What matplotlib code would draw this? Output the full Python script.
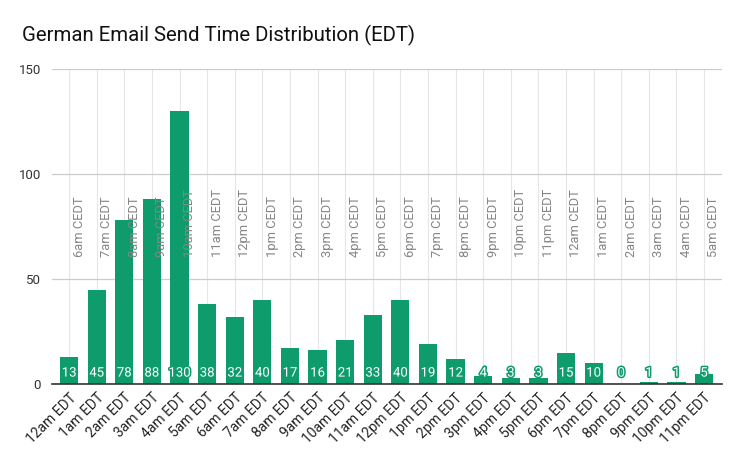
import matplotlib.pyplot as plt
import matplotlib.patheffects as pe

plt.rcParams["font.family"] = ["Roboto", "DejaVu Sans"]

edt_hours = [
    "12am EDT", "1am EDT", "2am EDT", "3am EDT", "4am EDT", "5am EDT",
    "6am EDT", "7am EDT", "8am EDT", "9am EDT", "10am EDT", "11am EDT",
    "12pm EDT", "1pm EDT", "2pm EDT", "3pm EDT", "4pm EDT", "5pm EDT",
    "6pm EDT", "7pm EDT", "8pm EDT", "9pm EDT", "10pm EDT", "11pm EDT",
]
cedt_hours = [
    "6am CEDT", "7am CEDT", "8am CEDT", "9am CEDT", "10am CEDT", "11am CEDT",
    "12pm CEDT", "1pm CEDT", "2pm CEDT", "3pm CEDT", "4pm CEDT", "5pm CEDT",
    "6pm CEDT", "7pm CEDT", "8pm CEDT", "9pm CEDT", "10pm CEDT", "11pm CEDT",
    "12am CEDT", "1am CEDT", "2am CEDT", "3am CEDT", "4am CEDT", "5am CEDT",
]
emails = [13, 45, 78, 88, 130, 38, 32, 40, 17, 16, 21, 33,
          40, 19, 12, 4, 3, 3, 15, 10, 0, 1, 1, 5]

GREEN = "#0f9c6d"

fig = plt.figure(figsize=(7.46, 4.61), dpi=100)
ax = fig.add_axes([52 / 746, 1 - 384 / 461, 670 / 746, 315 / 461])

x = list(range(len(emails)))

# vertical grid at each category
for xi in x:
    ax.plot([xi, xi], [0, 150], color="#e6e6e6", lw=0.8, zorder=0)

ax.bar(x, emails, width=0.66, color=GREEN, zorder=2)

for xi, v in zip(x, emails):
    ax.text(xi, 5.2, str(v), ha="center", va="center", color="white",
            fontsize=9.5, zorder=4,
            path_effects=[pe.withStroke(linewidth=2.2, foreground=GREEN)])

for xi, lab in zip(x, cedt_hours):
    ax.text(xi + 0.36, 60.5, lab, rotation=90, ha="center", va="bottom",
            color="#858585", fontsize=9.3, zorder=3)

ax.set_xlim(-0.62, 23.65)
ax.set_ylim(0, 150)
ax.set_yticks([0, 50, 100, 150])
ax.yaxis.grid(True, color="#cccccc", lw=0.9, zorder=0)
ax.set_axisbelow(True)

ax.set_xticks(x)
ax.set_xticklabels(edt_hours, rotation=45, ha="right", rotation_mode="anchor",
                   fontsize=10, color="#222222")
ax.tick_params(axis="x", length=0, pad=5)
ax.tick_params(axis="y", length=0, pad=8, labelsize=9.5, labelcolor="#333333")

for side in ["top", "right", "left"]:
    ax.spines[side].set_visible(False)
ax.spines["bottom"].set_color("#333333")
ax.spines["bottom"].set_linewidth(1.2)
ax.spines["bottom"].set_zorder(5)

fig.text(22 / 746, 1 - 35 / 461, "German Email Send Time Distribution (EDT)",
         fontsize=14.7, color="#111111", ha="left", va="center")

fig.savefig("out.png", dpi=100)
